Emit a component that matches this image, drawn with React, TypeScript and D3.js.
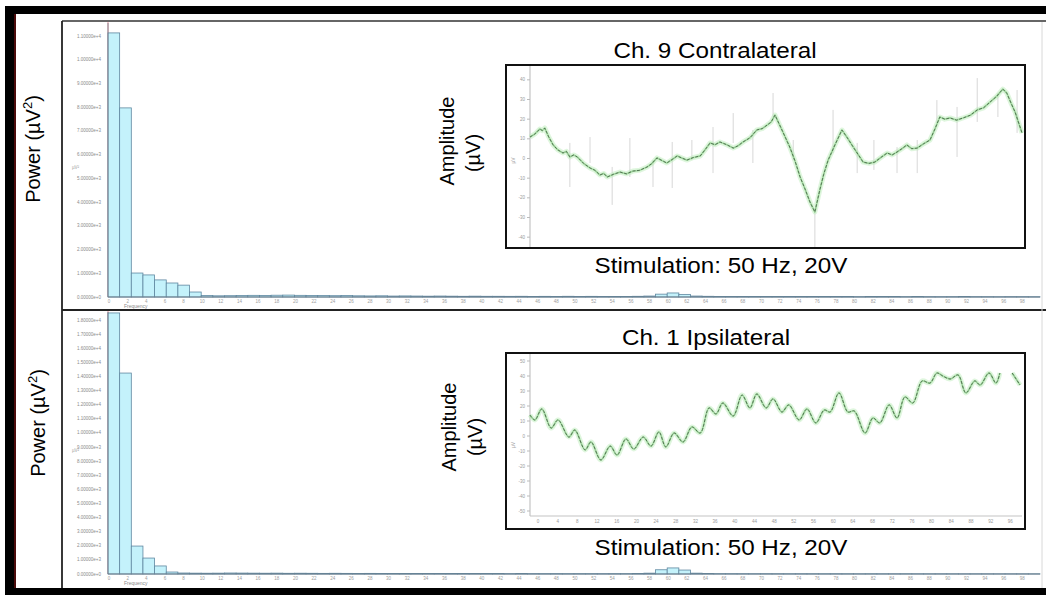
import React, { useEffect, useRef } from 'react';
import * as d3 from 'd3';

const W = 1046;
const H = 595;
const FONT = '"Liberation Sans", Arial, Helvetica, sans-serif';

// power spectrum bins, 1.25 Hz wide, power in µV²
const binWidth = 1.25;
const contraPower = [
  11130, 7970, 1010, 930, 720, 590, 500, 210, 60, 50,
  55, 60, 70, 65, 75, 80, 70, 65, 60, 55,
  60, 50, 45, 50, 40, 45, 40, 35, 40, 35,
  30, 35, 30, 30, 28, 30, 25, 28, 25, 30,
  25, 28, 25, 22, 25, 30, 40, 120, 170, 110,
  40, 30, 25, 22, 25, 20, 22, 20, 18, 20,
  22, 18, 20, 18, 15, 18, 20, 18, 15, 18,
  15, 14, 15, 18, 15, 14, 12, 15, 14, 12
];
const ipsiPower = [
  18500, 14240, 1980, 1130, 570, 140, 70, 60, 55, 60,
  70, 65, 60, 55, 60, 50, 55, 50, 45, 50,
  45, 40, 45, 40, 38, 40, 35, 38, 35, 32,
  35, 30, 32, 30, 28, 30, 28, 26, 28, 25,
  26, 25, 24, 25, 26, 30, 60, 300, 430, 280,
  60, 30, 25, 24, 22, 20, 22, 20, 18, 20,
  19, 18, 20, 18, 16, 18, 17, 16, 18, 16,
  15, 16, 15, 14, 15, 14, 13, 14, 13, 12
];
const freqTicks = d3.range(0, 100, 2);
const contraPowerTicks = d3.range(0, 11001, 1000);
const ipsiPowerTicks = d3.range(0, 18001, 1000);

// evoked traces: time (ms) and amplitude (µV)
const contraTime = [
  0, 1, 2, 2.5, 3, 3.8, 4.7, 5.6, 6.7, 7.4, 8.1, 8.9, 9.6, 10.9, 12.2, 13.2, 14.2, 15, 15.7, 17,
  18.3, 19.6, 20.9, 22.3, 23.8, 24.8, 25.8, 26.8, 27.8, 28.9, 29.9, 30.9, 31.9, 33.2, 34.6, 35.6, 36.6, 37.6, 38.6, 40,
  41.3, 42.3, 43.3, 44.7, 46.1, 47.2, 48.2, 49, 49.8, 51.3, 52.8, 53.9, 54.9, 55.9, 56.9, 57.9, 58.9, 59.7, 60.6, 62,
  63.4, 64.5, 65.7, 66.7, 67.7, 68.9, 70.1, 71.3, 72.6, 73.6, 74.6, 75.6, 76.6, 77.6, 78.7, 80, 81.3, 82.3, 83.3, 84.3,
  85.4, 86.7, 88, 89.5, 90.9, 92.2, 93.5, 94.8, 96.1, 96.9, 97.8, 98.6, 100
];
const contraAmp = [
  10.9, 12.5, 15, 14.2, 15.5, 11, 6.9, 4.5, 2.8, 3.6, 0.8, 1.8, 0.8, -2.5, -4.8, -6, -8.4, -7.6, -9.4, -8,
  -6.9, -7.8, -6.4, -6, -4.3, -2.5, 0.3, -1, -2.3, -0.5, 1.3, 0.2, -0.8, 0.5, 1.3, 4.5, 7.9, 7, 8.4, 7,
  5.3, 6.5, 8.4, 10.5, 14.5, 15.2, 17, 18.5, 22.1, 14, 5.8, -1.5, -9.4, -15.5, -22.1, -27.2, -16, -8, -0.8, 7,
  14.5, 10.5, 5.8, 2, -1.8, -2.5, -1.8, 0.5, 2.8, 1.8, 3.3, 5, 6.9, 5, 5.3, 7.5, 9.4, 15, 21.1, 20,
  20.6, 19.5, 20.6, 22, 24.7, 25.8, 28.7, 31.5, 35.3, 33.3, 28, 23.6, 13
];
// stimulus artefacts: time, top, bottom
const contraSpikes: [number, number, number][] = [
  [8.1, 7.9, -14.5], [12.2, 10.9, -2.3], [16.7, -4.3, -23.6], [20.3, 10.4, -9.4], [25, -0.8, -14.5],
  [28.9, 8.4, -15], [32.9, 9.4, -0.8], [37.2, 16, -7.4], [41.3, 23.1, 7.9], [45.3, 14.5, -2.3],
  [49.4, 33.3, 21.1], [53.5, 9.4, -0.8], [57.9, -26.2, -45], [61.6, 24.7, 2.8], [66.5, 7.9, -7.4],
  [69.9, 9.4, -5.8], [74.6, 5.8, -7.4], [78.7, 9.4, -7.4], [82.7, 29.7, 18], [86.8, 26.2, 0.8],
  [90.9, 40.9, 18.6], [95.1, 33.3, 21.1], [99, 34.8, 13]
];

const ipsiTime = [
  0, 1, 2.4, 4.3, 5.7, 7.9, 9.1, 11.2, 12.4, 14.4, 16.3, 17.7, 19.5, 21.1, 23, 24.6, 26.2, 27.6, 29.3, 31.1,
  32.9, 34.6, 36.4, 37.8, 39.2, 41.3, 43.1, 44.7, 46.1, 48, 49.4, 51.2, 52.6, 54.7, 56.3, 58.1, 59.8, 61, 62.8, 64.6,
  65.9, 68.1, 69.7, 71.1, 73, 74.6, 76.2, 77.8, 79.7, 81.3, 82.7, 83.9, 85.4, 87, 88.6, 90.4, 91.5, 93.3, 94.7, 95.5,
  96.8, 98, 99.6
];
const ipsiAmp: (number | null)[] = [
  14, 10.7, 18, 5.3, 10.7, -0.7, 4, -9.3, -4, -16, -6.7, -12.7, -2, -8.7, -0.7, -6.7, 2.7, -7.3, 2, -4,
  6, 2, 18.7, 14.7, 22, 13.3, 27.3, 18.7, 28, 18.7, 24.7, 16, 20.7, 10.7, 18, 8.7, 17.3, 16, 28.7, 16,
  16.7, 2, 12, 8.7, 20.7, 12, 26, 22, 36.7, 35.3, 42, 40, 38, 40.7, 28.7, 36.7, 34, 42, 35.3, 42,
  null, 42, 34
];
const contraAmpTicks = d3.range(-40, 41, 10);
const ipsiAmpTicks = d3.range(-50, 51, 10);
const timeTicks = d3.range(0, 100, 4);

const App = () => {
  const svgRef = useRef<SVGSVGElement>(null);

  useEffect(() => {
    const svg = d3.select(svgRef.current);
    svg.selectAll('*').remove();

    svg.append('rect').attr('width', W).attr('height', H).attr('fill', '#fff');

    const fx = d3.scaleLinear().domain([0, 100]).range([108, 1040]);

    const drawSpectrum = (values: number[], ticks: number[], y0: number, y1: number, maxV: number, panelTop: number) => {
      const y = d3.scaleLinear().domain([0, maxV]).range([y0, y1]);
      const g = svg.append('g');

      // red cursor line on y axis
      g.append('line')
        .attr('x1', fx(0)).attr('x2', fx(0))
        .attr('y1', panelTop + 1).attr('y2', y0)
        .attr('stroke', '#e9a3ae').attr('stroke-width', 1.2);

      g.selectAll('.ytick')
        .data(ticks)
        .enter()
        .append('text')
        .attr('x', 101)
        .attr('y', (d) => y(d) + 1.5)
        .attr('text-anchor', 'end')
        .attr('font-size', 4.5)
        .attr('font-family', FONT)
        .attr('fill', '#8a8a8a')
        .text((d) => d3.format('.5e')(d));

      g.selectAll('.bar')
        .data(values)
        .enter()
        .append('rect')
        .attr('x', (d, i) => fx(i * binWidth))
        .attr('y', (d) => y(d))
        .attr('width', (d, i) => fx((i + 1) * binWidth) - fx(i * binWidth))
        .attr('height', (d) => y0 - y(d))
        .attr('fill', '#c4f2fb')
        .attr('stroke', '#5f87a0')
        .attr('stroke-width', 0.8);

      g.append('line')
        .attr('x1', fx(0)).attr('x2', 1040)
        .attr('y1', y0).attr('y2', y0)
        .attr('stroke', '#6f7f8c').attr('stroke-width', 1);
      g.append('line')
        .attr('x1', fx(0)).attr('x2', fx(0))
        .attr('y1', panelTop + 2).attr('y2', y0)
        .attr('stroke', '#6f7f8c').attr('stroke-width', 0.8);

      g.selectAll('.xtick')
        .data(freqTicks)
        .enter()
        .append('text')
        .attr('x', (d) => fx(d) + 1)
        .attr('y', y0 + 6)
        .attr('text-anchor', 'middle')
        .attr('font-size', 4.5)
        .attr('font-family', FONT)
        .attr('fill', '#a0a0a0')
        .text((d) => d);

      g.append('text')
        .attr('x', 124).attr('y', y0 + 11)
        .attr('font-size', 5).attr('font-family', FONT)
        .attr('fill', '#8a8a8a')
        .text('Frequency');
      g.append('text')
        .attr('x', 72).attr('y', (y0 + panelTop) / 2 + 10)
        .attr('font-size', 4.5).attr('font-family', FONT)
        .attr('fill', '#a0a0a0')
        .text('µV²');
    };

    drawSpectrum(contraPower, contraPowerTicks, 297, 36, 11000, 21);
    drawSpectrum(ipsiPower, ipsiPowerTicks, 574, 320, 18000, 310);

    // panel frames
    svg.append('line').attr('x1', 62).attr('x2', W).attr('y1', 21).attr('y2', 21)
      .attr('stroke', '#333').attr('stroke-width', 1.5);
    svg.append('line').attr('x1', 62).attr('x2', 62).attr('y1', 21).attr('y2', 588)
      .attr('stroke', '#222').attr('stroke-width', 1.8);
    svg.append('line').attr('x1', 62).attr('x2', W).attr('y1', 310).attr('y2', 310)
      .attr('stroke', '#222').attr('stroke-width', 2);
    svg.append('line').attr('x1', 1042).attr('x2', 1042).attr('y1', 22).attr('y2', 588)
      .attr('stroke', '#d8d8d8').attr('stroke-width', 1);

    const tx = d3.scaleLinear().domain([0, 100]).range([530, 1022]);

    const drawInset = (opts: {
      top: number; bottom: number; ay: d3.ScaleLinear<number, number>; ampTicks: number[];
      time: number[]; amp: (number | null)[]; spikes: [number, number, number][]; xAxisY: number | null;
      id: string; smooth: boolean;
    }) => {
      const { top, bottom, ay, ampTicks, time, amp, spikes, xAxisY, id, smooth } = opts;
      const g = svg.append('g');
      g.append('rect')
        .attr('x', 506).attr('y', top)
        .attr('width', 1025 - 506).attr('height', bottom - top)
        .attr('fill', '#fff');

      svg.append('clipPath').attr('id', id)
        .append('rect').attr('x', 507).attr('y', top + 1)
        .attr('width', 1024 - 507).attr('height', bottom - top - 2);
      const inner = g.append('g').attr('clip-path', `url(#${id})`);

      inner.append('line')
        .attr('x1', 530).attr('x2', 530).attr('y1', top).attr('y2', xAxisY ?? bottom)
        .attr('stroke', '#c4c4c4').attr('stroke-width', 1.2);
      inner.selectAll('.atick')
        .data(ampTicks)
        .enter()
        .append('text')
        .attr('x', 525)
        .attr('y', (d) => ay(d) + 1.5)
        .attr('text-anchor', 'end')
        .attr('font-size', 4.5)
        .attr('font-family', FONT)
        .attr('fill', '#9a9a9a')
        .text((d) => d);
      inner.selectAll('.amark')
        .data(ampTicks)
        .enter()
        .append('line')
        .attr('x1', 527).attr('x2', 530)
        .attr('y1', (d) => ay(d)).attr('y2', (d) => ay(d))
        .attr('stroke', '#bbb');
      inner.append('text')
        .attr('transform', `translate(515,${(top + bottom) / 2 + 4}) rotate(-90)`)
        .attr('text-anchor', 'middle')
        .attr('font-size', 5).attr('font-family', FONT)
        .attr('fill', '#a8a8a8')
        .text('µV');

      if (xAxisY !== null) {
        inner.append('line')
          .attr('x1', 530).attr('x2', 1022).attr('y1', xAxisY).attr('y2', xAxisY)
          .attr('stroke', '#c4c4c4').attr('stroke-width', 1.2);
        inner.selectAll('.ttick')
          .data(timeTicks)
          .enter()
          .append('text')
          .attr('x', (d) => tx(d) + 8)
          .attr('y', xAxisY + 7)
          .attr('text-anchor', 'middle')
          .attr('font-size', 4.5)
          .attr('font-family', FONT)
          .attr('fill', '#9a9a9a')
          .text((d) => d);
      }

      inner.selectAll('.spike')
        .data(spikes)
        .enter()
        .append('line')
        .attr('x1', (d) => tx(d[0])).attr('x2', (d) => tx(d[0]))
        .attr('y1', (d) => ay(d[1])).attr('y2', (d) => ay(d[2]))
        .attr('stroke', '#d2d2d2').attr('stroke-width', 0.9);

      const pts = time.map((t, i) => [t, amp[i]] as [number, number | null]);
      const line = d3.line<[number, number | null]>()
        .defined((d) => d[1] !== null)
        .x((d) => tx(d[0]))
        .y((d) => ay(d[1] as number))
        .curve(smooth ? d3.curveCatmullRom.alpha(0.5) : d3.curveLinear);

      inner.append('path').attr('d', line(pts))
        .attr('fill', 'none').attr('stroke', '#b8eab5').attr('stroke-width', 5)
        .attr('stroke-opacity', 0.45).attr('stroke-linejoin', 'round');
      inner.append('path').attr('d', line(pts))
        .attr('fill', 'none').attr('stroke', '#7fc97c').attr('stroke-width', 1.8)
        .attr('stroke-opacity', 0.6).attr('stroke-linejoin', 'round');
      inner.append('path').attr('d', line(pts))
        .attr('fill', 'none').attr('stroke', '#3f5a3f').attr('stroke-width', 0.8)
        .attr('stroke-dasharray', '3 1.5').attr('stroke-linejoin', 'round');

      g.append('rect')
        .attr('x', 506).attr('y', top)
        .attr('width', 1025 - 506).attr('height', bottom - top)
        .attr('fill', 'none').attr('stroke', '#111').attr('stroke-width', 2);
    };

    drawInset({
      top: 65, bottom: 248,
      ay: d3.scaleLinear().domain([-45, 45]).range([247, 70]),
      ampTicks: contraAmpTicks, time: contraTime, amp: contraAmp, spikes: contraSpikes,
      xAxisY: null, id: 'clipA', smooth: false
    });
    drawInset({
      top: 353, bottom: 529,
      ay: d3.scaleLinear().domain([-53, 52]).range([515.5, 358]),
      ampTicks: ipsiAmpTicks, time: ipsiTime, amp: ipsiAmp, spikes: [],
      xAxisY: 516, id: 'clipB', smooth: true
    });

    // horizontal captions, slightly widened like the original
    const caption = (txt: string, x: number, y: number) => {
      const t = svg.append('text')
        .attr('x', x).attr('y', y)
        .attr('text-anchor', 'middle')
        .attr('font-size', 22)
        .attr('font-family', FONT)
        .attr('fill', '#000')
        .text(txt);
      const node = t.node() as SVGTextElement;
      const len = node.getComputedTextLength();
      t.attr('textLength', len * 1.1).attr('lengthAdjust', 'spacingAndGlyphs');
    };
    caption('Ch. 9 Contralateral', 715, 58);
    caption('Stimulation: 50 Hz, 20V', 721, 273);
    caption('Ch. 1 Ipsilateral', 706, 345);
    caption('Stimulation: 50 Hz, 20V', 721, 555);

    const vlabel = (x: number, y: number, parts: [string, boolean][]) => {
      const t = svg.append('text')
        .attr('transform', `translate(${x},${y}) rotate(-90)`)
        .attr('text-anchor', 'middle')
        .attr('font-size', 20)
        .attr('font-family', FONT)
        .attr('fill', '#000');
      parts.forEach(([s, sup]) => {
        const sp = t.append('tspan').text(s);
        if (sup) sp.attr('font-size', 13).attr('dy', -8);
        else sp.attr('dy', 0);
      });
      return t;
    };
    vlabel(40, 149, [['Power (µV', false], ['2', true], [')', false]]).selectAll('tspan')
      .filter((d, i) => i === 2).attr('dy', 8);
    vlabel(45, 423, [['Power (µV', false], ['2', true], [')', false]]).selectAll('tspan')
      .filter((d, i) => i === 2).attr('dy', 8);
    vlabel(454, 141, [['Amplitude', false]]);
    vlabel(480, 153, [['(µV)', false]]);
    vlabel(456, 427, [['Amplitude', false]]);
    vlabel(482, 437, [['(µV)', false]]);

    // black outer frame
    svg.append('rect').attr('x', 5).attr('y', 6).attr('width', W - 5).attr('height', 8).attr('fill', '#000');
    svg.append('rect').attr('x', 5).attr('y', 6).attr('width', 11).attr('height', H - 6).attr('fill', '#000');
    svg.append('rect').attr('x', 5).attr('y', 588).attr('width', W - 5).attr('height', 7).attr('fill', '#000');
    svg.append('line').attr('x1', 15).attr('x2', 15).attr('y1', 14).attr('y2', 588)
      .attr('stroke', '#5e0c0c').attr('stroke-width', 2).attr('stroke-opacity', 0.8);
  }, []);

  return (
    <svg
      ref={svgRef}
      width={W}
      height={H}
      style={{ position: 'absolute', left: 0, top: 0, display: 'block' }}
    />
  );
};

export default App;
